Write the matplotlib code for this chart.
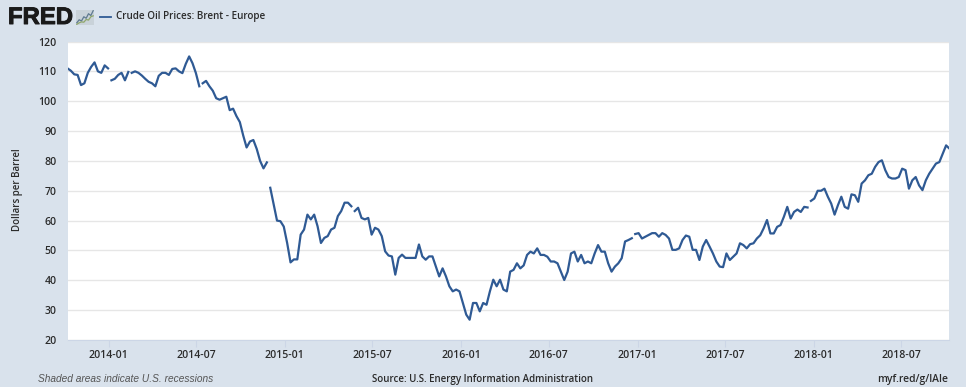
import numpy as np
import pandas as pd
import matplotlib
matplotlib.use('Agg')
import matplotlib.pyplot as plt
import matplotlib.patheffects as pe
from matplotlib.patches import Rectangle

# Weekly Brent prices (dollars per barrel)
prices_2013_2014 = [111, 110.2, 109, 108.8, 105.4, 106, 109.5, 111.5, 113, 110, 109.5, 112, 111,
                    107, 107.5, 108.8, 109.5, 107, 109.8, 109.5, 110, 109.5, 108.6, 107.5, 106.5,
                    106, 105, 108.5, 109.5, 109.5, 108.8, 110.8, 111, 110, 109.4, 112.5, 115,
                    112.7, 109.4, 105, 106, 106.8, 105, 103.5, 101, 100.5, 101, 101.5, 97, 97.5,
                    95, 93, 88.5, 84.5, 86.5, 87, 84, 80, 77.5, 79.5, 71, 65.5, 60]
prices_2015_2016 = [59.8, 58, 52.5, 46, 47, 47, 55.3, 57, 62, 60.4, 62, 58.1, 52.5, 54.2, 54.8, 57,
                    57.6, 61.5, 63.2, 66, 66, 64.8, 63.2, 64.3, 60.9, 60.4, 60.9, 55.3, 57.6, 57,
                    54.8, 49.7, 48.3, 48, 41.9, 47.5, 48.6, 47.5, 47.5, 47.5, 47.5, 52, 48, 46.9,
                    48, 48, 44.7, 41.3, 44, 41.3, 38, 36.3, 36.9, 36.3, 32.4, 28.5, 26.8, 32.4,
                    32.4, 29.6, 32.4, 31.8, 36.3, 40.2, 38, 40.2, 36.9, 36.3]
prices_2016_2017 = [42.9, 43.5, 45.7, 44, 45, 48.5, 49.6, 49, 50.7, 48.5, 48.5, 47.9, 46.3, 46.3,
                    45.7, 42.9, 40.1, 42.9, 49, 49.6, 46.3, 48.5, 45.7, 46.3, 45.7, 49, 51.8, 49.6,
                    49.6, 45.7, 42.9, 44.6, 45.7, 47.4, 53, 53.5, 54.1, 55.5, 55.8, 54, 54.6, 55.2,
                    55.8, 55.8, 54.6, 55.8, 55.2, 54, 50.2, 50.2, 50.7, 53.5, 55, 54.6, 50.2, 50.2,
                    46.8, 51.3, 53.5, 51.3, 49, 46.3, 44.6, 44.4]
prices_2017_2018 = [49, 46.8, 47.9, 49, 52.4, 51.8, 50.7, 52.1, 52.4, 54, 55.1, 57.4, 60.2, 55.7,
                    55.7, 57.9, 58.5, 61.3, 64.6, 60.7, 62.9, 63.7, 62.9, 64.6, 64.4, 66.6, 67.4,
                    70, 70, 70.7, 68, 65.7, 62, 65.2, 68, 64.6, 64, 68.8, 68.5, 66.3, 72.4, 73.5,
                    75.2, 75.7, 78, 79.6, 80.2, 76.9, 74.6, 74.1, 74.1, 74.6, 77.4, 76.9, 70.7,
                    73.5, 74.6, 71.8, 70.2, 73.5, 75.7, 77.4, 79.1, 79.6, 82.4, 85.2, 84.1]
gap_after = [12, 18, 39, 59, 84, 167, 219]

tick_dates = ['2014-01', '2014-07', '2015-01', '2015-07', '2016-01',
              '2016-07', '2017-01', '2017-07', '2018-01', '2018-07']
y_ticks = [20, 30, 40, 50, 60, 70, 80, 90, 100, 110, 120]
spark_a = [1, 2, 1.6, 3, 2.5, 4, 3.4, 5]
spark_b = [0.5, 1, 1.3, 1.2, 2.1, 1.9, 3, 3.3]

W, H = 966, 389
BG = '#d9e2ec'
LINE = '#2f5a94'
TXT = '#2b2b2b'
FONT = 'Open Sans'


def px(x, y):
    return x / W, 1 - y / H


prices = np.array(prices_2013_2014 + prices_2015_2016 + prices_2016_2017 + prices_2017_2018)
dates = pd.date_range('2013-10-08', periods=len(prices), freq='7D')
df = pd.DataFrame({'price': prices}, index=dates)

# break the line where the source has missing weeks
pos = [i + 1 for i in gap_after]
x_plot = np.insert(df.index.values, pos, df.index.values[gap_after])
y_plot = np.insert(df['price'].values, pos, np.nan)

fig = plt.figure(figsize=(W / 100, H / 100), dpi=100, facecolor=BG)
ax = fig.add_axes([67.5 / W, 1 - 340 / H, (949 - 67.5) / W, (340 - 41.5) / H])
ax.set_facecolor('white')
ax.plot(x_plot, y_plot, color=LINE, lw=1.6, solid_joinstyle='round')

ax.set_xlim(pd.Timestamp('2013-10-08'), pd.Timestamp('2018-10-08'))
ax.set_ylim(20, 120)
ax.set_yticks(y_ticks)
ax.set_xticks([pd.Timestamp(d + '-01') for d in tick_dates])
ax.set_xticklabels(tick_dates, fontfamily=FONT, fontweight='semibold', fontsize=7.6, color=TXT)
ax.set_yticklabels([str(v) for v in y_ticks], fontfamily=FONT, fontweight='semibold',
                   fontsize=7.6, color=TXT)
ax.grid(axis='y', color='#e6e6e6', lw=1)
ax.set_axisbelow(True)
ax.tick_params(axis='y', length=0, pad=8)
ax.tick_params(axis='x', length=5, width=0.8, color='#ccd6e6', pad=2)
for side in ['top', 'right', 'left']:
    ax.spines[side].set_visible(False)
ax.spines['bottom'].set_color('#ccd6e6')

fig.text(*px(18, 190), 'Dollars per Barrel', rotation=90, ha='center', va='center',
         fontfamily=FONT, fontweight='semibold', fontsize=7.0, color=TXT)

# header: logo, sparkline icon, legend
logo = fig.text(*px(8, 17.5), 'FRED', ha='left', va='center', fontfamily='Liberation Sans',
                fontweight='bold', fontsize=17.2, color='#1a1a1a')
logo.set_path_effects([pe.withStroke(linewidth=0.7, foreground='#1a1a1a')])
icon = fig.add_axes([76 / W, 1 - 25 / H, 18 / W, 15 / H])
icon.add_patch(Rectangle((0, 0), 1, 1, transform=icon.transAxes, color='#c9d2d9', lw=0))
icon.plot(spark_a, color='#5f7a90', lw=0.9)
icon.plot(spark_b, color='#8fa66a', lw=0.9)
icon.axis('off')
fig.add_artist(plt.Line2D([100 / W, 111 / W], [1 - 16.5 / H] * 2, color=LINE, lw=1.3))
fig.text(*px(115.5, 16.5), 'Crude Oil Prices: Brent - Europe', ha='left', va='center',
         fontfamily=FONT, fontweight='semibold', fontsize=7.15, color=TXT)

# footer
fig.text(*px(38, 379.5), 'Shaded areas indicate U.S. recessions', ha='left', va='center',
         fontfamily='Liberation Sans', style='italic', fontsize=7.25, color='#555555')
fig.text(*px(372, 379.5), 'Source: U.S. Energy Information Administration', ha='left', va='center',
         fontfamily=FONT, fontweight='semibold', fontsize=7.05, color=TXT)
fig.text(*px(948, 379.5), 'myf.red/g/lAIe', ha='right', va='center',
         fontfamily=FONT, fontweight='semibold', fontsize=7.4, color=TXT)
fig.add_artist(Rectangle((0, 0), 1, 2.5 / H, transform=fig.transFigure, color='white', lw=0))

fig.savefig('out.png', dpi=100, facecolor=fig.get_facecolor())
